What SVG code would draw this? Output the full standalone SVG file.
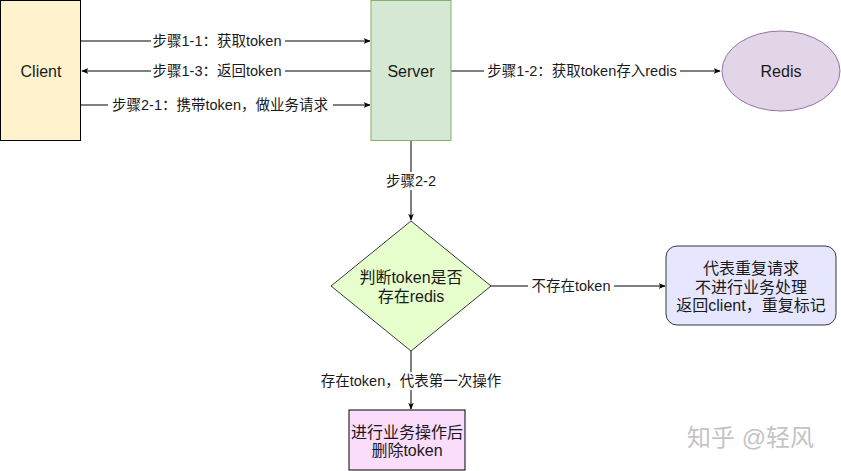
<svg xmlns="http://www.w3.org/2000/svg" width="841" height="471" viewBox="0 0 841 471">
<defs>
<marker id="arr" viewBox="0 0 10 10" refX="9" refY="5" markerWidth="7" markerHeight="7" orient="auto" markerUnits="userSpaceOnUse">
<path d="M0,1 L10,5 L0,9 L2.5,5 Z" fill="#000"/>
</marker>
<style>
text{font-family:"Liberation Sans","Noto Sans CJK SC",sans-serif;fill:#1a1a1a;}
.n{font-size:16px;text-anchor:middle;dominant-baseline:central;}
.l{font-size:14.5px;text-anchor:middle;dominant-baseline:central;}
.c{stroke:#000;stroke-width:1;fill:none;marker-end:url(#arr);}
.bg{fill:#fff;}
</style>
</defs>
<rect width="841" height="471" fill="#fff"/>
<g id="connectors">
<line class="c" x1="81" y1="41" x2="370" y2="41"/>
<line class="c" x1="371" y1="71" x2="82" y2="71"/>
<line class="c" x1="81" y1="105" x2="370" y2="105"/>
<line class="c" x1="451" y1="71" x2="720" y2="71"/>
<line class="c" x1="411" y1="140" x2="411" y2="220"/>
<line class="c" x1="490" y1="286" x2="665" y2="286"/>
<line class="c" x1="411" y1="351" x2="411" y2="409"/>
<g>
<rect class="bg" x="151" y="32" width="134" height="18"/>
<text class="l" x="217" y="41">步骤1-1：获取token</text>
<rect class="bg" x="151" y="62" width="134" height="18"/>
<text class="l" x="217" y="71">步骤1-3：返回token</text>
<rect class="bg" x="108" y="96" width="225" height="18"/>
<text class="l" x="220" y="105">步骤2-1：携带token，做业务请求</text>
<rect class="bg" x="484" y="62" width="196" height="18"/>
<text class="l" x="582" y="71">步骤1-2：获取token存入redis</text>
<rect class="bg" x="384" y="172" width="54" height="18"/>
<text class="l" x="411" y="181">步骤2-2</text>
<rect class="bg" x="528" y="277" width="86" height="18"/>
<text class="l" x="571" y="286">不存在token</text>
<rect class="bg" x="314" y="372" width="196" height="18"/>
<text class="l" x="411" y="381">存在token，代表第一次操作</text>
</g>
</g>
<g id="client">
<rect x="0.5" y="0.5" width="80" height="140" fill="#fff2cc" stroke="#000"/>
<text class="n" x="41" y="71">Client</text>
</g>
<g id="server">
<rect x="371" y="0.5" width="80" height="140" fill="#d5e8d4" stroke="#82b366"/>
<text class="n" x="411" y="71">Server</text>
</g>
<g id="redis">
<ellipse cx="781" cy="71" rx="59" ry="40" fill="#e1d5e7" stroke="#9673a6"/>
<text class="n" x="781" y="71">Redis</text>
</g>
<g id="decision">
<polygon points="411,221 491,286 411,351 331,286" fill="#e6ffcc" stroke="#36393d"/>
<text class="n" x="411" y="277">判断token是否</text>
<text class="n" x="411" y="296">存在redis</text>
</g>
<g id="duplicate">
<rect x="666" y="246" width="170" height="79" rx="11" fill="#e6e6ff" stroke="#36393d"/>
<text class="n" x="751" y="268">代表重复请求</text>
<text class="n" x="751" y="287">不进行业务处理</text>
<text class="n" x="751" y="305">返回client，重复标记</text>
</g>
<g id="process">
<rect x="349" y="410" width="116" height="60" fill="#fbdcfb" stroke="#000"/>
<text class="n" x="407" y="432">进行业务操作后</text>
<text class="n" x="407" y="450">删除token</text>
</g>
<text x="687" y="446" style="font-size:24px;fill:#c4c4c4;">知乎 @轻风</text>
</svg>
